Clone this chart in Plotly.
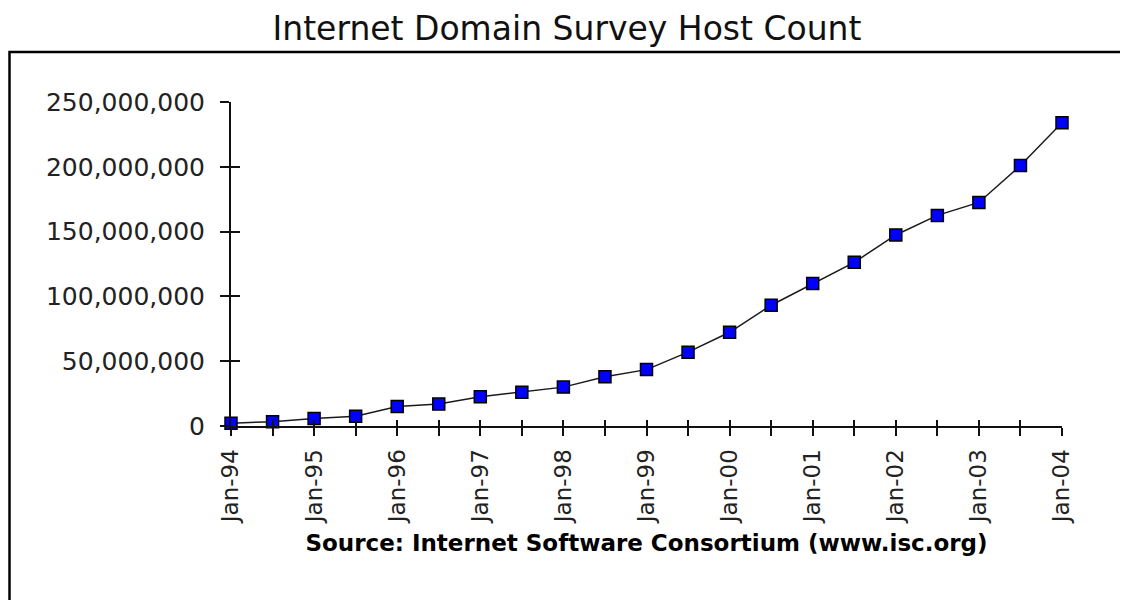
import plotly.graph_objects as go

# ---- data ----
periods = ["Jan-94", "Jul-94", "Jan-95", "Jul-95", "Jan-96", "Jul-96", "Jan-97", "Jul-97",
           "Jan-98", "Jul-98", "Jan-99", "Jul-99", "Jan-00", "Jul-00", "Jan-01", "Jul-01",
           "Jan-02", "Jul-02", "Jan-03", "Jul-03", "Jan-04"]
host_count = [2200000, 3300000, 5800000, 7600000, 15000000, 16900000, 22500000, 26000000,
              30000000, 38000000, 43500000, 57000000, 72300000, 93200000, 110000000, 126300000,
              147400000, 162500000, 172500000, 201000000, 234000000]
y_ticks = [0, 50000000, 100000000, 150000000, 200000000, 250000000]
y_tick_labels = ["0", "50,000,000", "100,000,000", "150,000,000", "200,000,000", "250,000,000"]
x_tick_labels = [p if p.startswith("Jan") else "" for p in periods]

title_text = "Internet Domain Survey Host Count"
source_text = "Source: Internet Software Consortium (www.isc.org)"

# ---- layout geometry (pixels; page body has an 8px margin) ----
OFF = 8
W, H = 1128, 600
L, T = 231 - OFF, 102 - OFF
R = W - (1062 - OFF)
B = H - (426 - OFF)
PW, PH = W - L - R, H - T - B

def px_x(p):
    return (p - OFF - L) / PW

def px_y(p):
    return (H - B - (p - OFF)) / PH

fig = go.Figure()
fig.add_trace(go.Scatter(
    x=periods, y=host_count, mode="lines+markers",
    line=dict(color="#1a1a1a", width=1.5),
    marker=dict(symbol="square", size=12, color="#0000FF",
                line=dict(color="#000000", width=1.5)),
    cliponaxis=False, showlegend=False, hoverinfo="x+y",
))
# empty trace to create the overlay axes (ticks crossing the axis lines)
fig.add_trace(go.Scatter(x=[], y=[], xaxis="x2", yaxis="y2", showlegend=False))

tick_font = dict(family="DejaVu Sans", size=25, color="#222222")

fig.update_layout(
    width=W, height=H,
    margin=dict(l=L, r=R, t=T, b=B, autoexpand=False),
    paper_bgcolor="white", plot_bgcolor="white",
    title=dict(text=title_text, x=(567 - OFF) / W, xanchor="center", xref="container",
               y=1 - (28 - OFF) / H, yref="container", yanchor="middle",
               font=dict(family="DejaVu Sans", size=33, color="#111111")),
    xaxis=dict(
        type="category", categoryorder="array", categoryarray=periods,
        range=[0, len(periods) - 1],
        tickmode="array", tickvals=periods, ticktext=x_tick_labels,
        tickangle=-90, tickfont=dict(family="DejaVu Sans", size=23, color="#222222"),
        ticks="outside", ticklen=8, tickwidth=2, tickcolor="#111111",
        ticklabelstandoff=4,
        showline=True, linecolor="#111111", linewidth=2,
        showgrid=False, zeroline=False, automargin=False,
        title=dict(text=source_text, standoff=12,
                   font=dict(family="DejaVu Sans", size=23, color="#000000", weight="bold")),
    ),
    yaxis=dict(
        range=[0, 250000000],
        tickmode="array", tickvals=y_ticks, ticktext=y_tick_labels,
        tickfont=tick_font,
        ticks="outside", ticklen=9, tickwidth=2, tickcolor="#111111",
        ticklabelstandoff=10,
        showline=True, linecolor="#111111", linewidth=2,
        showgrid=False, zeroline=False, automargin=False,
    ),
    xaxis2=dict(
        overlaying="x", range=[0, len(periods) - 1],
        tickmode="array", tickvals=list(range(len(periods))),
        ticks="inside", ticklen=6, tickwidth=2, tickcolor="#111111",
        showticklabels=False, showline=False, showgrid=False, zeroline=False,
    ),
    yaxis2=dict(
        overlaying="y", side="left", range=[0, 250000000],
        tickmode="array", tickvals=y_ticks,
        ticks="inside", ticklen=9, tickwidth=2, tickcolor="#111111",
        showticklabels=False, showline=False, showgrid=False, zeroline=False,
    ),
    shapes=[dict(
        type="path", xref="paper", yref="paper",
        path=f"M {px_x(9.5)},{px_y(700)} L {px_x(9.5)},{px_y(52)} L {px_x(1300)},{px_y(52)}",
        line=dict(color="#000000", width=2.5),
    )],
)

fig.write_html("out.html")
